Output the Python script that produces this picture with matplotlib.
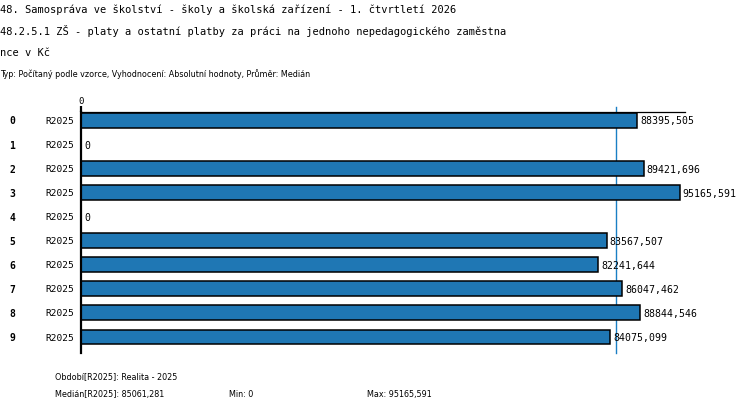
import matplotlib
matplotlib.use("Agg")
import matplotlib.pyplot as plt
from matplotlib.transforms import blended_transform_factory

# ---- data ----
row_ids = ["0", "1", "2", "3", "4", "5", "6", "7", "8", "9"]
periods = ["R2025"] * 10
values = [88395.505, 0, 89421.696, 95165.591, 0, 83567.507, 82241.644, 86047.462, 88844.546, 84075.099]
median_value = 85061.281
min_value = 0
max_value = 95165.591

title1 = "48. Samospráva ve školství - školy a školská zařízení - 1. čtvrtletí 2026"
title2 = "48.2.5.1 ZŠ - platy a ostatní platby za práci na jednoho nepedagogického zaměstna"
title3 = "nce v Kč"
subtitle = "Typ: Počítaný podle vzorce, Vyhodnocení: Absolutní hodnoty, Průměr: Medián"
period_note = "Období[R2025]: Realita - 2025"


def fmt(v):
    if v == 0:
        return "0"
    return f"{v:.3f}".replace(".", ",")


W, H = 750, 414
fig = plt.figure(figsize=(W / 100, H / 100), dpi=100)
fig.patch.set_facecolor("white")

mono = "DejaVu Sans Mono"
narrow = ["DejaVu Sans"]
nsize = 5.8

# axes geometry (pixels)
ax_l, ax_r, ax_t, ax_b = 81, 685, 113, 354
ax = fig.add_axes([ax_l / W, 1 - ax_b / H, (ax_r - ax_l) / W, (ax_b - ax_t) / H])

ypos = list(range(len(values)))
ax.barh(ypos, values, height=0.62, color="#1f77b4", edgecolor="black", linewidth=1.1, zorder=2)

ax.set_xlim(0, 96000)
ax.set_ylim(9.665, -0.353)

for s in ["bottom", "right"]:
    ax.spines[s].set_visible(False)
ax.spines["left"].set_linewidth(1.6)
ax.spines["top"].set_linewidth(0.9)

# top axis tick "0"
ax.xaxis.tick_top()
ax.set_xticks([0])
ax.set_xticklabels(["0"], fontfamily=mono, fontsize=6.5)
ax.tick_params(axis="x", direction="out", length=4, width=1.6, pad=1)
ax.set_yticks([])

# median line
ax.axvline(median_value, ymin=0, ymax=1.02, color="#1a7fc4", linewidth=1.0, clip_on=False, zorder=1)

# value labels
for y, v in zip(ypos, values):
    ax.annotate(fmt(v), (v, y), xytext=(3, 0), textcoords="offset pixels",
                ha="left", va="center", fontfamily=mono, fontsize=7.1)

# row labels
tr = blended_transform_factory(fig.transFigure, ax.transData)
for y, rid, p in zip(ypos, row_ids, periods):
    fig.text(12 / W, y, rid, transform=tr, ha="center", va="center",
             fontfamily=mono, fontsize=7, fontweight="bold")
    fig.text(74 / W, y, p, transform=tr, ha="right", va="center",
             fontfamily=mono, fontsize=6.8)

# titles
tsize = 7.45
fig.text(0, 1 - 13 / H, title1, ha="left", va="baseline", fontfamily=mono, fontsize=tsize)
fig.text(0, 1 - 35 / H, title2, ha="left", va="baseline", fontfamily=mono, fontsize=tsize)
fig.text(0, 1 - 56 / H, title3, ha="left", va="baseline", fontfamily=mono, fontsize=tsize)
fig.text(0, 1 - 77 / H, subtitle, ha="left", va="baseline", fontfamily=narrow, fontsize=nsize)

# footer
fig.text(55 / W, 1 - 379 / H, period_note, ha="left", va="baseline", fontfamily=narrow, fontsize=nsize)
fig.text(55 / W, 1 - 397 / H, "Medián[R2025]: " + fmt(median_value), ha="left", va="baseline",
         fontfamily=narrow, fontsize=nsize)
fig.text(229 / W, 1 - 397 / H, "Min: " + fmt(min_value), ha="left", va="baseline",
         fontfamily=narrow, fontsize=nsize)
fig.text(367 / W, 1 - 397 / H, "Max: " + fmt(max_value), ha="left", va="baseline",
         fontfamily=narrow, fontsize=nsize)

fig.savefig("out.png", dpi=100, facecolor="white")
